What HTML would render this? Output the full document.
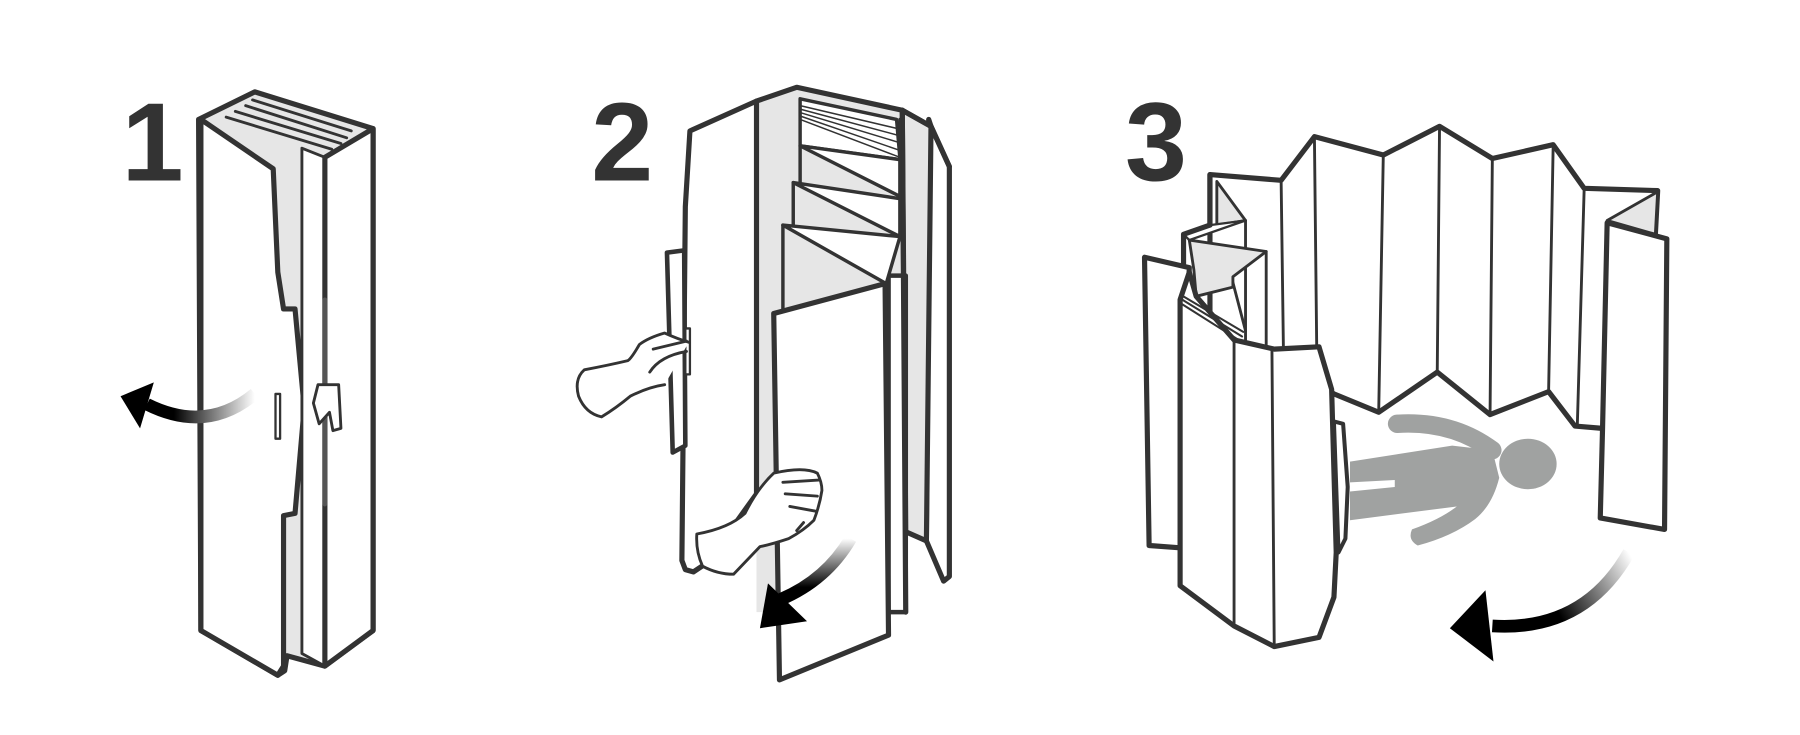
<!DOCTYPE html>
<html><head><meta charset="utf-8"><style>
html,body{margin:0;padding:0;background:#fff;}
svg{display:block;}
text{font-family:"Liberation Sans",sans-serif;font-weight:bold;fill:#333;}
</style></head><body>
<svg width="1800" height="735" viewBox="0 0 1568 640" preserveAspectRatio="none" xmlns="http://www.w3.org/2000/svg">
<defs>
<linearGradient id="g1" x1="1" y1="0" x2="0" y2="0"><stop offset="0" stop-color="#fff"/><stop offset="0.75" stop-color="#000"/></linearGradient>
<linearGradient id="g2" x1="0" y1="0" x2="0" y2="1"><stop offset="0" stop-color="#fff"/><stop offset="0.8" stop-color="#000"/></linearGradient>
<linearGradient id="g3" x1="1" y1="0" x2="0" y2="0.3"><stop offset="0" stop-color="#fff"/><stop offset="0.7" stop-color="#000"/></linearGradient>
</defs>
<g stroke="#333" stroke-linejoin="round" stroke-linecap="round">

<!-- ===== Figure 1 ===== -->
<text x="106" y="157" font-size="97" stroke="none">1</text>
<polygon points="173,104 222,80 325,112 325,549 283,580 250,571 248,584 242,588 175,549" fill="#e6e6e6" stroke-width="4.5"/>
<polygon points="175,104 238,147 242,237 247,269 257,269 265,355 257,447 247,449 247,580 242,588 175,549" fill="#fff" stroke-width="4.5"/>
<polygon points="263,129 283,137 283,580 263,569" fill="#fff" stroke-width="2.5"/>
<polygon points="283,137 325,112 325,549 283,580" fill="#fff" stroke-width="4.5"/>
<line x1="283" y1="261" x2="283" y2="439" stroke-width="4" stroke="#555"/>
<g stroke-width="2.5">
<line x1="220" y1="87" x2="306" y2="114"/>
<line x1="214" y1="92" x2="302" y2="120"/>
<line x1="205" y1="97" x2="297" y2="125"/>
<line x1="197" y1="102" x2="289" y2="130"/>
</g>
<polygon points="277,335 295,335 297,373 290,375 287,359 278,369 273,351" fill="#fff" stroke-width="2.5"/>
<rect x="240" y="343" width="4" height="39" fill="#fff" stroke-width="2"/>
<path d="M222,343 Q180,378 128,352" fill="none" stroke="url(#g1)" stroke-width="11" stroke-linecap="butt"/>
<polygon points="105,345 134,333 122,373" fill="#000" stroke="none"/>

<!-- ===== Figure 2 ===== -->
<text x="515" y="157" font-size="97" stroke="none">2</text>
<polygon points="659,88 694,76 786,96 789,533 659,533" fill="#e6e6e6" stroke="none"/>
<polygon points="809,104 811,110 827,145 827,502 822,506 807,471" fill="#fff" stroke-width="4.5"/>
<polygon points="786,96 811,110 807,471 789,463" fill="#e6e6e6" stroke-width="4.5"/>
<rect x="774" y="240" width="15" height="293" fill="#fff" stroke-width="4"/>
<line x1="786" y1="96" x2="789" y2="533" stroke-width="4.5"/>
<g stroke-width="3">
<polygon points="697,86 781,104 784,139 697,127" fill="#fff"/>
<polygon points="697,127 784,139 784,171" fill="#fff"/>
<polyline points="697,127 697,159" fill="none"/>
<polygon points="691,159 784,173 784,206" fill="#fff"/>
<polyline points="691,159 691,196" fill="none"/>
<polygon points="682,196 784,206 772,247" fill="#fff"/>
<polyline points="682,196 682,270" fill="none"/>
<line x1="784" y1="104" x2="784" y2="206"/>
</g>
<g stroke-width="1.3">
<line x1="697" y1="92" x2="782" y2="112"/>
<line x1="697" y1="95" x2="783" y2="118"/>
<line x1="697" y1="98" x2="783" y2="124"/>
<line x1="697" y1="101" x2="784" y2="131"/>
<line x1="697" y1="104" x2="784" y2="137"/>
</g>
<polyline points="659,88 694,76 786,96 811,110 827,145" fill="none" stroke-width="4.5"/>
<polygon points="674,273 771,247 774,553 679,592" fill="#fff" stroke-width="4.5"/>
<polygon points="601,114 659,88 659,430 616,490 604,498 597,496 594,488 597,180" fill="#fff" stroke-width="4.5"/>
<polygon points="581,220 596,218 597,388 586,394" fill="#fff" stroke-width="4"/>
<rect x="597" y="286" width="4" height="40" fill="#fff" stroke-width="2"/>
<path d="M600,298 Q590,295 579,290 Q565,294 557,300 Q550,312 547,314 Q530,318 509,322 Q500,330 504,345 Q510,360 524,363 Q537,355 549,345 Q565,337 579,335" fill="#fff" stroke-width="2.5"/>
<path d="M569,304 L598,297 M566,324 Q575,310 598,306" fill="none" stroke-width="2.5"/>
<path d="M607,465 Q635,460 649,447 Q660,425 674,412 Q700,406 712,412 Q716,420 716,427 Q714,440 709,453 Q700,462 687,469 Q672,474 662,476 L639,500 Q625,500 612,493 Q606,480 607,465 Z" fill="#fff" stroke-width="2.5"/>
<path d="M682,420 L713,418 M684,430 L712,432 M688,441 L710,445 M700,455 L694,462" fill="none" stroke-width="2.5"/>
<path d="M741,469 Q720,505 680,522" fill="none" stroke="url(#g2)" stroke-width="11" stroke-linecap="butt"/>
<polygon points="662,547 669,508 703,541" fill="#000" stroke="none"/>

<!-- ===== Figure 3 ===== -->
<text x="980" y="157" font-size="97" stroke="none">3</text>
<polygon points="1054,152 1116,157 1145,119 1205,135 1254,110 1300,138 1353,126 1380,164 1444,166 1442,204 1396,373 1372,371 1349,341 1298,361 1252,324 1201,359 1162,343 1110,304 1054,300" fill="#fff" stroke-width="4.5"/>
<g stroke-width="2.5">
<line x1="1116" y1="157" x2="1118" y2="304"/>
<line x1="1145" y1="119" x2="1147" y2="302"/>
<line x1="1205" y1="135" x2="1201" y2="359"/>
<line x1="1254" y1="110" x2="1252" y2="324"/>
<line x1="1300" y1="138" x2="1298" y2="361"/>
<line x1="1353" y1="126" x2="1349" y2="341"/>
<line x1="1380" y1="164" x2="1374" y2="371"/>
</g>
<polygon points="1400,192 1444,167 1442,204" fill="#e6e6e6" stroke-width="2.5"/>
<polygon points="1400,194 1452,208 1450,461 1394,451 1396,373" fill="#fff" stroke-width="4.5"/>
<!-- left folds -->
<polygon points="1060,158 1085,192 1060,196" fill="#e6e6e6" stroke-width="2.5"/>
<line x1="1085" y1="192" x2="1085" y2="297" stroke-width="2.5"/>
<polygon points="1031,204 1054,196 1085,192 1036,209" fill="#fff" stroke-width="2"/>
<polygon points="1036,209 1103,219 1074,241 1074,250 1042,258 1040,235" fill="#e6e6e6" stroke-width="2.5"/>
<line x1="1074" y1="246" x2="1085" y2="288" stroke-width="2.5"/>
<line x1="1103" y1="219" x2="1103" y2="300" stroke-width="2.5"/>
<polyline points="1054,196 1054,152" fill="none" stroke-width="4.5"/>
<polyline points="1054,196 1031,204 1031,230" fill="none" stroke-width="4.5"/>
<polygon points="997,224 1036,233 1028,477 1001,475" fill="#fff" stroke-width="4.5"/>
<polygon points="1028,261 1036,237 1042,258 1075,296 1110,304 1149,302 1160,339 1164,481 1162,520 1149,555 1110,563 1075,545 1028,510" fill="#fff" stroke-width="4.5"/>
<line x1="1075" y1="296" x2="1075" y2="545" stroke-width="2.5"/>
<line x1="1108" y1="304" x2="1110" y2="563" stroke-width="2.5"/>
<g stroke-width="1.8">
<line x1="1029" y1="257" x2="1083" y2="289"/>
<line x1="1030" y1="261" x2="1082" y2="293"/>
<line x1="1030" y1="265" x2="1079" y2="296"/>
</g>
<polygon points="1162,367 1170,369 1174,424 1172,469 1166,481" fill="#fff" stroke-width="3.5"/>
<g fill="#a0a2a1" stroke="none">
<ellipse cx="1331" cy="404" rx="25" ry="22"/>
<path d="M1176,402 L1265,388 L1300,392 L1306,416 Q1300,440 1285,452 Q1265,467 1235,475 Q1226,470 1230,461 Q1255,452 1269,441 L1176,453 L1176,428 L1215,424 L1215,418 L1176,420 Z"/>
</g>
<path d="M1217,369 Q1265,366 1300,392" fill="none" stroke="#a0a2a1" stroke-width="16"/>
<path d="M1419,481 Q1380,550 1300,545" fill="none" stroke="url(#g3)" stroke-width="11" stroke-linecap="butt"/>
<polygon points="1263,547 1294,514 1301,576" fill="#000" stroke="none"/>
</g>
</svg>
</body></html>
